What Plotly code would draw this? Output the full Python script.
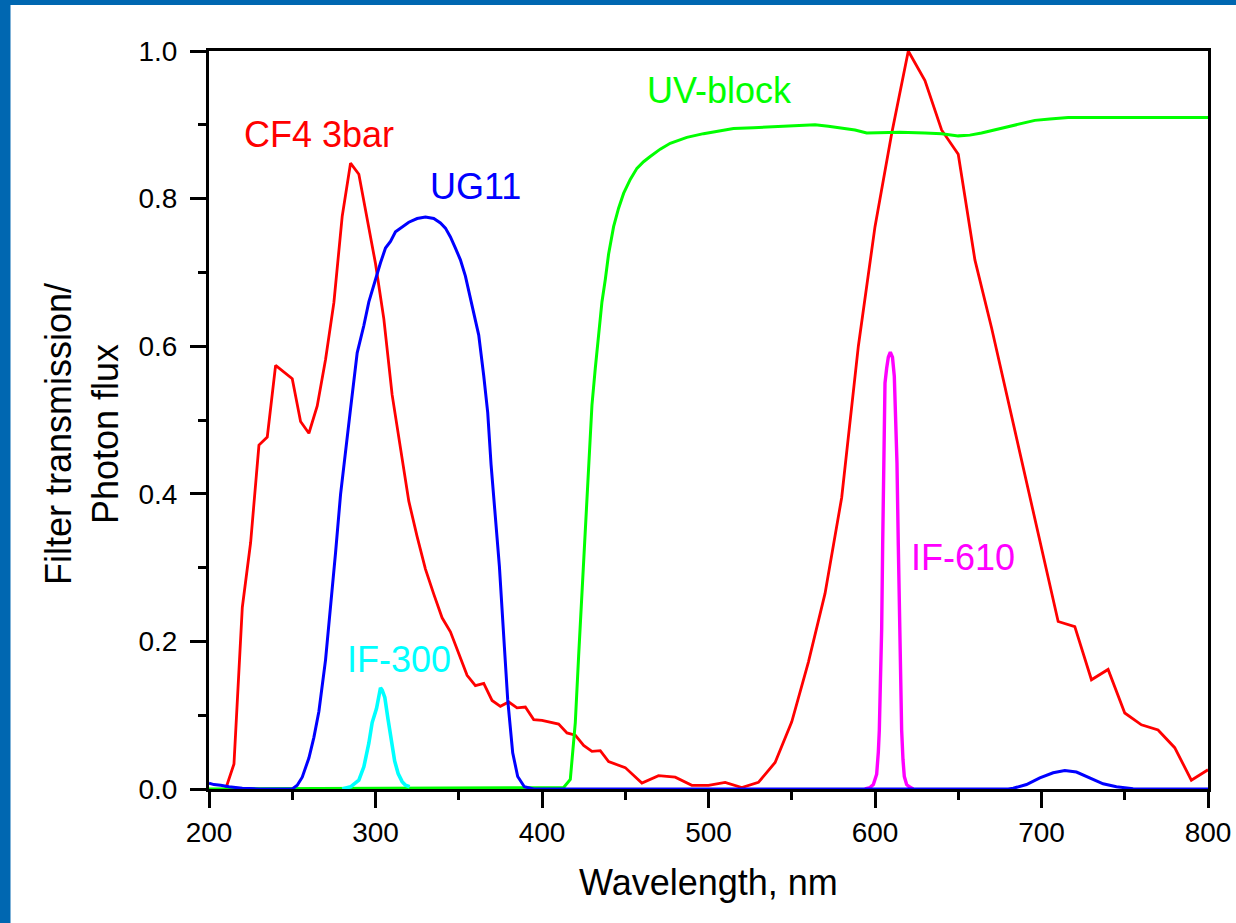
import plotly.graph_objects as go

# CF4 at 3 bar: scintillation photon flux (normalised)
cf4_nm = [210, 215, 220, 225, 230, 235, 240, 250, 255, 260, 265, 270, 275, 280, 285, 290,
          300, 305, 310, 315, 320, 325, 330, 335, 340, 345, 350, 355, 360, 365, 370, 375,
          380, 385, 390, 395, 400, 405, 410, 415, 420, 425, 430, 435, 440, 450, 460, 470,
          480, 490, 500, 510, 520, 530, 540, 550, 560, 570, 580, 590, 600, 610, 620, 630,
          640, 650, 660, 670, 680, 690, 700, 710, 720, 730, 740, 750, 760, 770, 780, 790, 800]
cf4_val = [0.0, 0.034, 0.246, 0.334, 0.466, 0.477, 0.574, 0.556, 0.498, 0.482, 0.519, 0.582,
           0.659, 0.776, 0.848, 0.833, 0.712, 0.637, 0.534, 0.461, 0.390, 0.342, 0.298, 0.264,
           0.232, 0.213, 0.183, 0.154, 0.140, 0.143, 0.120, 0.112, 0.118, 0.110, 0.111, 0.094,
           0.093, 0.090, 0.088, 0.076, 0.073, 0.059, 0.051, 0.052, 0.037, 0.029, 0.008, 0.018,
           0.016, 0.005, 0.005, 0.009, 0.002, 0.009, 0.036, 0.091, 0.172, 0.265, 0.395, 0.600,
           0.762, 0.888, 1.000, 0.960, 0.893, 0.860, 0.717, 0.625, 0.525, 0.425, 0.325, 0.227,
           0.220, 0.148, 0.162, 0.103, 0.087, 0.080, 0.056, 0.012, 0.026]

# UV-block filter transmission
uvb_nm = [200, 413, 417, 420, 422, 424, 426, 428, 430, 432, 434, 436, 438, 440, 443, 446, 449,
          453, 457, 461, 465, 471, 477, 487, 497, 507, 515, 527, 539, 552, 564, 572, 580, 588,
          595, 615, 630, 640, 650, 657, 664, 672, 680, 688, 696, 705, 716, 735, 756, 776, 800]
uvb_val = [0.0, 0.002, 0.013, 0.09, 0.18, 0.27, 0.36, 0.45, 0.52, 0.57, 0.62, 0.66, 0.69,
           0.725, 0.762, 0.787, 0.807, 0.826, 0.841, 0.850, 0.857, 0.867, 0.875, 0.883, 0.888,
           0.892, 0.895, 0.896, 0.897, 0.899, 0.900, 0.898, 0.896, 0.893, 0.889, 0.890, 0.889,
           0.888, 0.885, 0.886, 0.889, 0.893, 0.897, 0.902, 0.906, 0.908, 0.910, 0.910, 0.910,
           0.911, 0.910]

# IF-300 interference filter
if300_nm = [280, 285, 290, 293, 296, 298, 300.6, 302, 303, 304, 305.6, 307.5, 309.6, 311.5,
            313.6, 316, 318, 320.5]
if300_val = [0.0, 0.003, 0.012, 0.030, 0.062, 0.090, 0.109, 0.130, 0.137, 0.134, 0.124, 0.095,
             0.062, 0.038, 0.021, 0.010, 0.005, 0.003]

# IF-610 interference filter
if610_nm = [594, 597, 599, 601, 602, 602.6, 603.3, 604, 604.6, 605.2, 605.6, 606, 607, 608,
            609.2, 610.5, 611.6, 612.4, 613.2, 614, 614.8, 615.4, 616, 616.8, 617.6, 619,
            620.6, 623]
if610_val = [0.0, 0.002, 0.006, 0.020, 0.050, 0.080, 0.150, 0.216, 0.330, 0.442, 0.500, 0.550,
             0.570, 0.585, 0.592, 0.585, 0.559, 0.500, 0.442, 0.330, 0.216, 0.150, 0.080,
             0.040, 0.017, 0.006, 0.003, 0.0]

# UG11 glass filter transmission
ug11_nm = [200, 203, 207, 212, 220, 230, 250, 253, 256, 260, 263, 266, 270, 273, 276, 279,
           282, 285, 289, 293, 296, 300, 303, 306, 309, 312, 316, 320, 325, 330, 335, 339,
           342, 345, 348, 351, 354, 357, 360, 362, 365, 367.4, 369.4, 371.4, 374.4, 377.4,
           379.4, 382.4, 385.4, 389.4, 395, 680, 683, 691, 699, 707, 714, 721, 729, 737, 745,
           755, 765, 800]
ug11_val = [0.008, 0.006, 0.005, 0.003, 0.001, 0.0, 0.0, 0.005, 0.016, 0.042, 0.070, 0.105,
            0.175, 0.245, 0.320, 0.399, 0.460, 0.515, 0.591, 0.628, 0.660, 0.692, 0.713, 0.733,
            0.742, 0.755, 0.762, 0.768, 0.773, 0.775, 0.773, 0.767, 0.760, 0.748, 0.733, 0.717,
            0.695, 0.665, 0.638, 0.615, 0.560, 0.510, 0.440, 0.383, 0.302, 0.193, 0.121, 0.049,
            0.017, 0.003, 0.0, 0.0, 0.001, 0.006, 0.015, 0.022, 0.025, 0.023, 0.015, 0.007,
            0.003, 0.0005, 0.0, 0.0]

# Curve labels: (text, x, y, colour)
labels = [
    ("CF4 3bar", 219.7, 0.8875, "#FF0000"),
    ("UG11", 331.5, 0.817, "#0000FF"),
    ("UV-block", 462.0, 0.947, "#00FF00"),
    ("IF-300", 281.6, 0.176, "#00FFFF"),
    ("IF-610", 620.3, 0.314, "#FF00FF"),
]

x_ticks = [200, 300, 400, 500, 600, 700, 800]
y_ticks = [0.0, 0.2, 0.4, 0.6, 0.8, 1.0]

FONT = "Arial, 'Liberation Sans', sans-serif"
W, H = 1236, 923
ML, MR, MT, MB = 209, 28, 51, 134
PW, PH = W - ML - MR, H - MT - MB

fig = go.Figure()
series = [
    (cf4_nm, cf4_val, "#FF0000", 2.8),
    (uvb_nm, uvb_val, "#00FF00", 3.0),
    (if300_nm, if300_val, "#00FFFF", 3.6),
    (if610_nm, if610_val, "#FF00FF", 3.4),
    (ug11_nm, ug11_val, "#0000FF", 3.0),
]
for xs, ys, col, w in series:
    fig.add_trace(go.Scatter(x=xs, y=ys, mode="lines",
                             line=dict(color=col, width=w), showlegend=False,
                             hoverinfo="skip"))

for text, x, y, col in labels:
    fig.add_annotation(x=x, y=y, xref="x", yref="y", text=text, showarrow=False,
                       xanchor="left", yanchor="middle",
                       font=dict(family=FONT, size=36, color=col))

# Axis titles (pixel positions converted to paper fractions)
fig.add_annotation(x=(708 - ML) / PW, y=(H - MB - 882) / PH, xref="paper", yref="paper",
                   text="Wavelength, nm", showarrow=False, xanchor="center", yanchor="middle",
                   font=dict(family=FONT, size=36, color="black"))
fig.add_annotation(x=(82 - ML) / PW, y=(H - MB - 434) / PH, xref="paper", yref="paper",
                   text="Filter transmission/<br>Photon flux", showarrow=False, textangle=-90,
                   xanchor="center", yanchor="middle",
                   font=dict(family=FONT, size=36, color="black"))

# Blue frame strips along the left and top edges of the page
fig.add_shape(type="rect", xref="paper", yref="paper", layer="below",
              x0=-ML / PW, x1=(10.5 - ML) / PW, y0=-MB / PH, y1=(H - MB) / PH,
              line=dict(width=0), fillcolor="#0067B1")
fig.add_shape(type="rect", xref="paper", yref="paper", layer="below",
              x0=-ML / PW, x1=(W - ML) / PW, y0=(H - MB - 5) / PH, y1=(H - MB) / PH,
              line=dict(width=0), fillcolor="#0067B1")

axis_common = dict(showline=True, linecolor="black", linewidth=3, mirror=True,
                   ticks="outside", ticklen=16, tickwidth=3, tickcolor="black",
                   showgrid=False, zeroline=False,
                   tickfont=dict(family=FONT, size=28, color="black"))

fig.update_xaxes(range=[200, 800], tickvals=x_ticks, ticktext=[str(v) for v in x_ticks],
                 ticklabelstandoff=0,
                 minor=dict(tickvals=[250, 350, 450, 550, 650, 750], ticks="outside",
                            ticklen=8, tickwidth=3, tickcolor="black"),
                 **axis_common)
fig.update_yaxes(range=[0, 1.0], tickvals=y_ticks, ticktext=[f"{v:.1f}" for v in y_ticks],
                 ticklabelstandoff=7,
                 minor=dict(tickvals=[0.1, 0.3, 0.5, 0.7, 0.9], ticks="outside",
                            ticklen=8, tickwidth=3, tickcolor="black"),
                 **axis_common)

fig.update_layout(width=W, height=H, autosize=False,
                  margin=dict(l=ML, r=MR, t=MT, b=MB, autoexpand=False),
                  paper_bgcolor="white", plot_bgcolor="white",
                  font=dict(family=FONT, color="black"))

fig.write_html(
    "out.html",
    config={"responsive": False, "displayModeBar": False},
    post_script="document.documentElement.style.overflow='hidden';"
                "document.body.style.margin='0';document.body.style.overflow='hidden';",
)
